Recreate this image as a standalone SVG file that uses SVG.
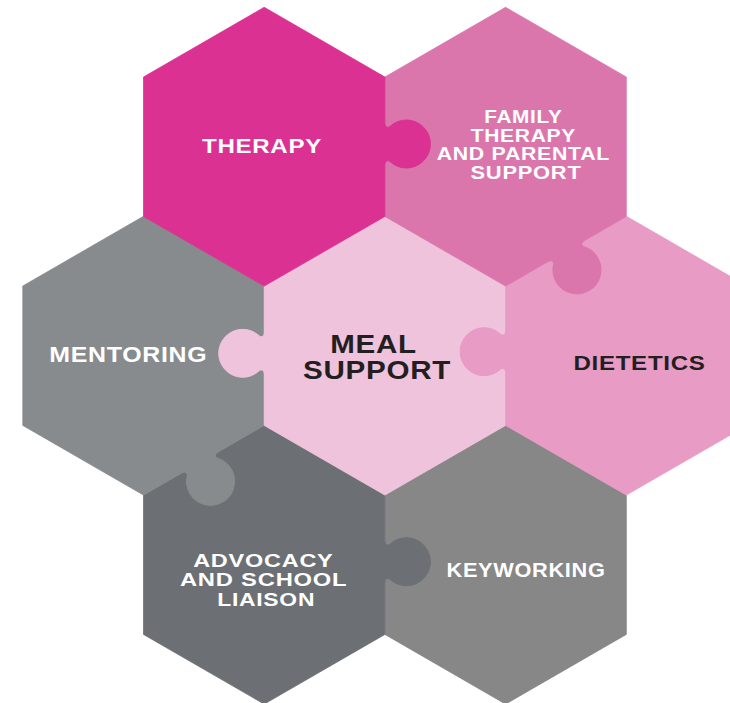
<svg xmlns="http://www.w3.org/2000/svg" xmlns:xlink="http://www.w3.org/1999/xlink" width="730" height="703" viewBox="0 0 730 703">
<style>
  .lbl{font-family:"Liberation Sans",Arial,Helvetica,sans-serif;font-weight:bold;text-anchor:middle;letter-spacing:0.6px}
  .w{fill:#ffffff}
  .d{fill:#231f20}
  .therapy{fill:#da3192;stroke:#da3192}
  .family{fill:#db76ad;stroke:#db76ad}
  .meal{fill:#f0c3dd;stroke:#f0c3dd}
  .diet{fill:#e89bc4;stroke:#e89bc4}
  .ment{fill:#878b8e;stroke:#878b8e}
  .adv{fill:#6c7074;stroke:#6c7074}
  .key{fill:#878788;stroke:#878788}
  polygon{stroke-width:0.8;stroke-linejoin:miter}
  use{stroke:none}
</style>
<defs>
  <path id="knob" d="M -1,-19.67 L 0,-19.67 A 3 3 0 0 0 5.06,-17.48 A 24 24 0 1 1 5.06,17.48 A 3 3 0 0 0 0,19.67 L -1,19.67 Z"/>
</defs>
<rect width="730" height="703" fill="#ffffff"/>

<g id="keyworking">
  <polygon class="key" points="505.6,425.3 626.3,495 626.3,634.4 505.6,704.1 384.9,634.4 384.9,495"/>
  <text class="lbl w" x="526" y="577.3" font-size="19.5" textLength="159" lengthAdjust="spacingAndGlyphs">KEYWORKING</text>
</g>

<g id="advocacy">
  <polygon class="adv" points="264.2,425.3 384.9,495 384.9,634.4 264.2,704.1 143.5,634.4 143.5,495"/>
  <use xlink:href="#knob" href="#knob" class="adv" transform="translate(384.9,561.7)"/>
  <text class="lbl w" font-size="18.5">
    <tspan x="266" y="566.5" textLength="140" lengthAdjust="spacingAndGlyphs">ADVOCACY</tspan>
    <tspan x="266.3" y="586" textLength="167" lengthAdjust="spacingAndGlyphs">AND SCHOOL</tspan>
    <tspan x="266.2" y="606" textLength="98" lengthAdjust="spacingAndGlyphs">LIAISON</tspan>
  </text>
</g>

<g id="mentoring">
  <polygon class="ment" points="143.5,216.3 264.2,286 264.2,425.4 143.5,495.1 22.8,425.4 22.8,286"/>
  <use xlink:href="#knob" href="#knob" class="ment" transform="translate(199.8,462.7) rotate(60)"/>
  <text class="lbl w" x="128.3" y="362.3" font-size="21.5" textLength="158" lengthAdjust="spacingAndGlyphs">MENTORING</text>
</g>

<g id="meal-support">
  <polygon class="meal" points="384.9,216.3 505.6,286 505.6,425.4 384.9,495.1 264.2,425.4 264.2,286"/>
  <use xlink:href="#knob" href="#knob" class="meal" transform="translate(264.2,353.3) rotate(180)"/>
  <text class="lbl d" font-size="25.5">
    <tspan x="377" y="353" textLength="86" lengthAdjust="spacingAndGlyphs">MEAL</tspan>
    <tspan x="377" y="379" textLength="148" lengthAdjust="spacingAndGlyphs">SUPPORT</tspan>
  </text>
</g>

<g id="dietetics">
  <polygon class="diet" points="626.3,216.3 747,286 747,425.4 626.3,495.1 505.6,425.4 505.6,286"/>
  <use xlink:href="#knob" href="#knob" class="diet" transform="translate(505.6,351.7) rotate(180)"/>
  <text class="lbl d" x="639.5" y="370" font-size="21" textLength="132" lengthAdjust="spacingAndGlyphs">DIETETICS</text>
</g>

<g id="family-therapy">
  <polygon class="family" points="505.6,7.3 626.3,77 626.3,216.4 505.6,286.1 384.9,216.4 384.9,77"/>
  <use xlink:href="#knob" href="#knob" class="family" transform="translate(566.2,251.2) rotate(60)"/>
  <text class="lbl w" font-size="18">
    <tspan x="526" y="123" textLength="78" lengthAdjust="spacingAndGlyphs">FAMILY</tspan>
    <tspan x="526" y="141.5" textLength="105" lengthAdjust="spacingAndGlyphs">THERAPY</tspan>
    <tspan x="526" y="160" textLength="173" lengthAdjust="spacingAndGlyphs">AND PARENTAL</tspan>
    <tspan x="526" y="178.5" textLength="111" lengthAdjust="spacingAndGlyphs">SUPPORT</tspan>
  </text>
</g>

<g id="therapy">
  <polygon class="therapy" points="264.2,7.3 384.9,77 384.9,216.4 264.2,286.1 143.5,216.4 143.5,77"/>
  <use xlink:href="#knob" href="#knob" class="therapy" transform="translate(384.9,144)"/>
  <text class="lbl w" x="262" y="153" font-size="21" textLength="120" lengthAdjust="spacingAndGlyphs">THERAPY</text>
</g>

<g id="connectors"></g>
</svg>
